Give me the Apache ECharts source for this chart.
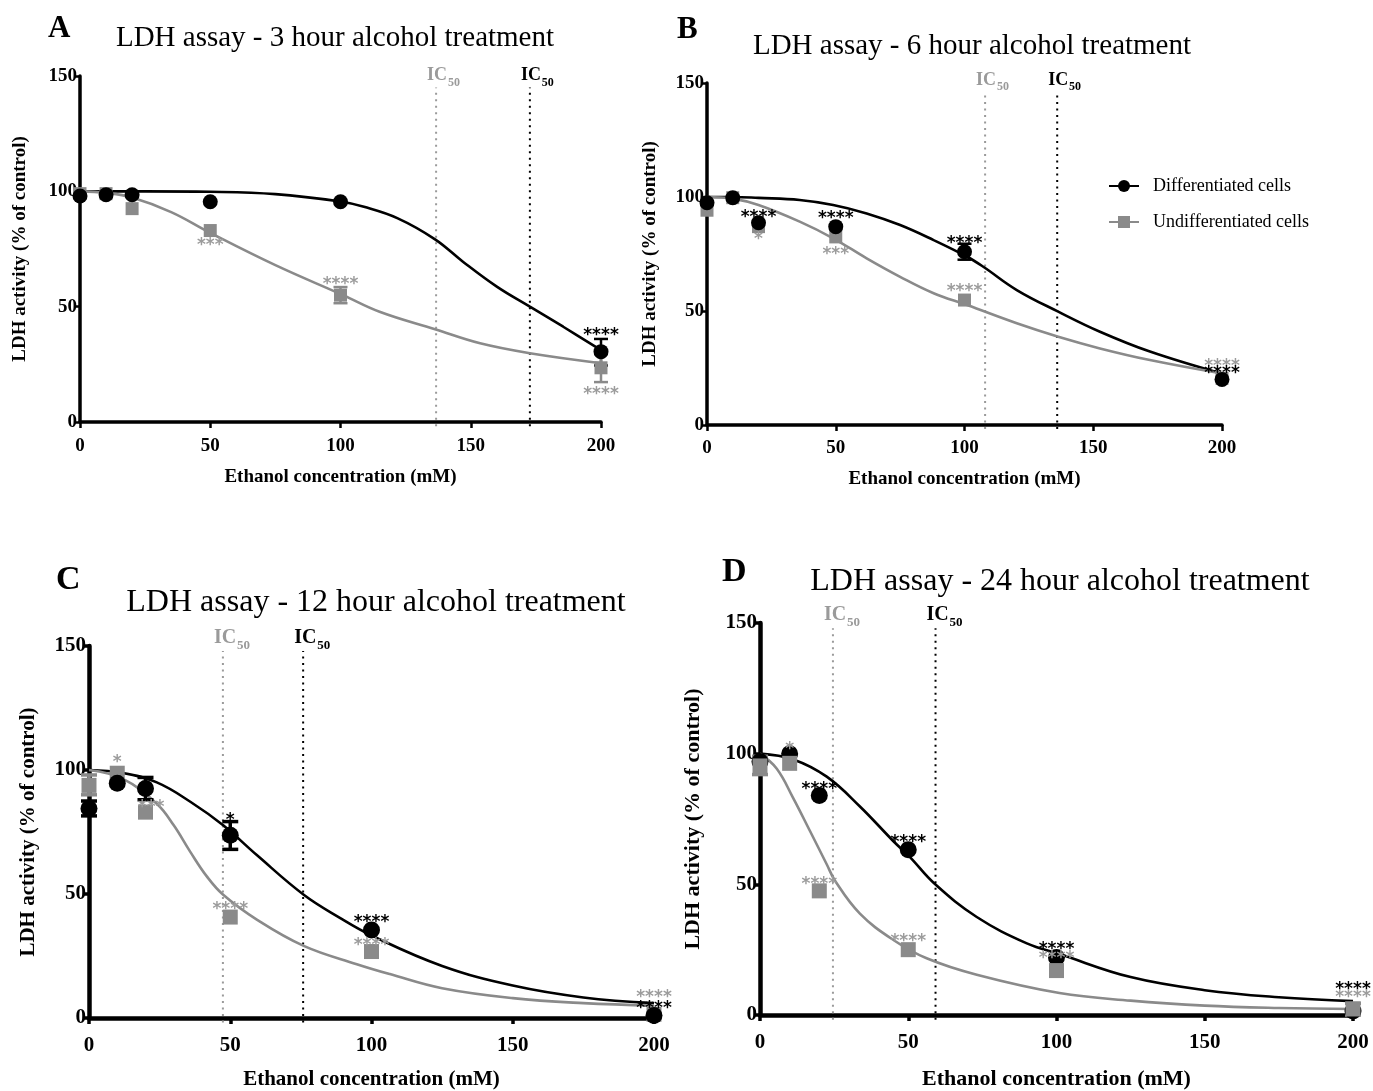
<!DOCTYPE html>
<html><head><meta charset="utf-8">
<script src="https://cdn.jsdelivr.net/npm/echarts@6/dist/echarts.min.js"></script>
<style>html,body{margin:0;padding:0;background:#fff}#c{width:1373px;height:1091px}</style>
</head><body><div id="c"></div>
<script>
// ---------- DATA ----------
const legendNames = ['Differentiated cells', 'Undifferentiated cells'];
const xAxisName = 'Ethanol concentration (mM)';
const yAxisName = 'LDH activity (% of control)';
const titles = ['LDH assay - 3 hour alcohol treatment','LDH assay - 6 hour alcohol treatment','LDH assay - 12 hour alcohol treatment','LDH assay - 24 hour alcohol treatment'];
const letters = ['A','B','C','D'];

// Panel A (3 h)
const curveA_d = [[0,100],[25,100],[50,99.8],[75,98.8],[100,95.6],[109,93.3],[122,88.3],[136.3,79.2],[147,69.5],[160,58.7],[172.7,50],[185.5,41.3],[200,31.2]];
const curveA_u = [[0,100],[10,99.3],[20,97.3],[35,91],[50,82],[75,68],[101,55],[115,47.8],[136.3,40.2],[153.6,34.1],[172.7,29.8],[200,25.5]];
const ptsA_d = [[0,98],[10,98.5],[20,98.5],[50,95.5],[100,95.5],[200,30.5]];
const ptsA_u = [[0,99],[10,99],[20,92.5],[50,83],[100,55],[200,23.5]];
const errA = [[200,24.5,36,'d'],[100,51.5,58.5,'u'],[200,17.3,29.5,'u']];
const sigA = [[50,78.2,'***','u'],[100,61.2,'****','u'],[200,38.9,'****','d'],[200,13.7,'****','u']];
const icA = [136.7,172.7];

// Panel B (6 h)
const curveB_d = [[0,100],[10,100],[20,99.6],[36,98.7],[49,96.5],[62,92.8],[75,87.7],[88,81.1],[101,73.8],[107.3,69.4],[120.3,59.2],[136.4,49.7],[152.6,40.9],[172,32.2],[200,22.5]];
const curveB_u = [[0,100],[10,99.3],[20,96.5],[36,89.2],[49,81.9],[62,73.1],[75,65],[88,57.8],[101,52.6],[120.3,44.6],[136.4,38.7],[152.6,33.6],[172,28.5],[200,22.6]];
const ptsB_d = [[0,97.5],[10,99.7],[20,88.7],[50,87],[100,76],[200,20]];
const ptsB_u = [[0,94.2],[10,99.7],[20,87],[50,82.5],[100,54.8],[200,20.5]];
const errB = [[100,72.5,79.5,'d']];
const sigB = [[20,92.7,'****','d'],[20,82.8,'*','u'],[50,92.2,'****','d'],[50,76.5,'***','u'],[100,81.3,'****','d'],[100,60.3,'****','u'],[200,27.2,'****','u'],[200,24,'****','d']];
const icB = [108,136];

// Panel C (12 h)
const curveC_d = [[0,100],[12,98.8],[24,95],[36,87.1],[47.5,77.7],[59.4,65.7],[76,49.7],[88.8,40.4],[100,33.3],[125,21],[150,13.1],[175,8.3],[200,6]];
const curveC_u = [[0,100],[12,96.4],[24,86.4],[30,77.7],[35.8,67.1],[41.7,57.1],[47.5,49.7],[59.4,39.7],[76,29.1],[94.8,21.7],[106.5,17.7],[125,12],[150,8],[175,6],[200,5]];
const ptsC_d = [[0,84.5],[10,94.7],[20,92.5],[50,73.7],[100,35.5],[200,1]];
const ptsC_u = [[0,93.8],[10,98.7],[20,83],[50,40.7],[100,26.8],[200,1.5]];
const errC = [[0,81.5,87.5,'d'],[20,88,97,'d'],[50,68,79.2,'d'],[0,90,98,'u']];
const sigC = [[10,104.6,'*','u'],[22,86.4,'***','u'],[50,81,'*','d'],[50,45.4,'****','u'],[100,40,'****','d'],[100,30.6,'****','u'],[200,9.7,'****','u'],[200,5.4,'****','d']];
const icC = [47.4,75.8];

// Panel D (24 h)
const curveD_d = [[0,100],[11.2,97.8],[22.5,91.2],[33.7,79.8],[45,66.5],[50.5,60.5],[59,50.1],[73.1,37.5],[90,27.4],[101,23.3],[125,14.5],[150,9.5],[175,6.8],[200,5.3]];
const curveD_u = [[0,100],[5.6,94.3],[11.2,83],[16.9,70.3],[22.5,57.7],[25.3,51.4],[33.7,38.8],[45,28.7],[56.2,21.7],[73.1,15.4],[101,8.4],[125,5.5],[150,3.6],[175,2.7],[200,2.3]];
const ptsD_d = [[0,97],[10,100],[20,84],[50,63.2],[100,22],[200,1.5]];
const ptsD_u = [[0,95.3],[10,96.3],[20,47.5],[50,25],[100,17],[200,2.3]];
const errD = [[0,92,99,'u'],[200,0,4.5,'u']];
const sigD = [[10,103,'*','u'],[20,87.8,'****','d'],[50,67.6,'****','d'],[20,51.4,'****','u'],[50,29.7,'****','u'],[100,26.5,'****','d'],[100,23.1,'****','u'],[200,11,'****','d'],[200,8,'****','u']];
const icD = [24.6,59.2];

// ---------- STYLE / LAYOUT ----------
const BLACK = '#000', GRAY = '#8a8a8a', GRAY_TXT = '#9c9c9c';
const SERIF = '"Liberation Serif","Times New Roman",serif';

const panels = [
  {curves:[curveA_d,curveA_u], pts:[ptsA_d,ptsA_u], err:errA, sig:sigA, ic:icA,
   grid:{left:80,top:76,width:521,height:346}, tick:19, name:19, lw:3.5, sym:[15,13], icTop:145, sqTop:false,
   gapX:46, gapY:50, lblM:15, letter:[48,13,31], title:[335,38,29], icFs:[18,12]},
  {curves:[curveB_d,curveB_u], pts:[ptsB_d,ptsB_u], err:errB, sig:sigB, ic:icB,
   grid:{left:707,top:83,width:515,height:342}, tick:19, name:19, lw:3.5, sym:[15,13], icTop:146, sqTop:false,
   gapX:45, gapY:47, lblM:14, letter:[677,14,31], title:[972,46,29], icFs:[18,12]},
  {curves:[curveC_d,curveC_u], pts:[ptsC_d,ptsC_u], err:errC, sig:sigC, ic:icC,
   grid:{left:89,top:646,width:565,height:375}, tick:21, name:21, lw:4.5, sym:[17,15], icTop:148, sqTop:false,
   gapX:51, gapY:50, lblM:17, letter:[56,563,34], title:[376,603,32], icFs:[20,13]},
  {curves:[curveD_d,curveD_u], pts:[ptsD_d,ptsD_u], err:errD, sig:sigD, ic:icD,
   grid:{left:760,top:623,width:593,height:396}, tick:21, name:22, lw:4.5, sym:[17,15], icTop:148, sqTop:true,
   gapX:53, gapY:56, lblM:17, letter:[722,555,34], title:[1060,582,32], icFs:[20,13]}
];

const grids = [], xAxes = [], yAxes = [], series = [], graphics = [];
const STAR_FS = 17;

panels.forEach((p, i) => {
  grids.push(Object.assign({containLabel:false}, p.grid));
  const labelStyle = {fontFamily:SERIF, fontWeight:'bold', fontSize:p.tick, color:BLACK};
  const nameStyle = {fontFamily:SERIF, fontWeight:'bold', fontSize:p.name, color:BLACK};
  const axLine = {show:true, onZero:false, lineStyle:{color:BLACK, width:p.lw}};
  const axTick = {show:true, length:6, lineStyle:{color:BLACK, width:p.lw-1}};
  xAxes.push({gridIndex:i, type:'value', min:0, max:200, interval:50,
    axisLine:axLine, axisTick:axTick, splitLine:{show:false},
    axisLabel:Object.assign({margin:p.lblM}, labelStyle),
    name:xAxisName, nameLocation:'middle', nameGap:p.gapX, nameTextStyle:nameStyle});
  yAxes.push({gridIndex:i, type:'value', min:0, max:150, interval:50,
    axisLine:axLine, axisTick:axTick, splitLine:{show:false},
    axisLabel:Object.assign({margin:3}, labelStyle),
    name:yAxisName, nameLocation:'middle', nameGap:p.gapY, nameTextStyle:nameStyle});

  // fitted curves
  [0,1].forEach(k => {
    series.push({type:'line', name:legendNames[k], xAxisIndex:i, yAxisIndex:i,
      data:p.curves[k], smooth:0.4, showSymbol:false, symbol:k===0?'circle':'rect',
      lineStyle:{color:k===0?BLACK:GRAY, width:2.6}, itemStyle:{color:k===0?BLACK:GRAY},
      silent:true, z:2, animation:false});
  });

  // IC50 lines + labels
  const icArr = p.ic, icTop = p.icTop, icFs = p.icFs;
  series.push({type:'custom', xAxisIndex:i, yAxisIndex:i, silent:true, z:1, animation:false,
    data:icArr.map(v => [v, 0]),
    renderItem:(params, api) => {
      const v = icArr[params.dataIndex];
      const col = params.dataIndex === 0 ? '#9a9a9a' : BLACK;
      const a = api.coord([v, -1.8]), b = api.coord([v, icTop]);
      return {type:'group', children:[
        {type:'line', shape:{x1:a[0],y1:a[1],x2:b[0],y2:b[1]}, style:{stroke:col, lineWidth:2, lineDash:[2,4.5]}},
        {type:'text', x:b[0]-9, y:b[1]-3, style:{text:'IC', fill:col, font:'bold '+icFs[0]+'px '+SERIF, textAlign:'left', textVerticalAlign:'bottom'}},
        {type:'text', x:b[0]+icFs[0]*1.1-8, y:b[1]+1, style:{text:'50', fill:col, font:'bold '+icFs[1]+'px '+SERIF, textAlign:'left', textVerticalAlign:'bottom'}}
      ]};
    }});

  // error bars
  const errArr = p.err, lwE = p.lw - 1, cap = p.sym[0] - 1;
  series.push({type:'custom', xAxisIndex:i, yAxisIndex:i, silent:true, z:3, animation:false,
    data:errArr.map(d => [d[0], d[1], d[2]]), encode:{x:0, y:[1,2]},
    renderItem:(params, api) => {
      const d = errArr[params.dataIndex];
      const lo = api.coord([d[0], d[1]]), hi = api.coord([d[0], d[2]]);
      const c = d[3] === 'd' ? BLACK : GRAY, h = cap/2;
      const st = {stroke:c, lineWidth:lwE};
      return {type:'group', children:[
        {type:'line', shape:{x1:lo[0],y1:lo[1],x2:hi[0],y2:hi[1]}, style:st},
        {type:'line', shape:{x1:lo[0]-h,y1:lo[1],x2:lo[0]+h,y2:lo[1]}, style:st},
        {type:'line', shape:{x1:hi[0]-h,y1:hi[1],x2:hi[0]+h,y2:hi[1]}, style:st}
      ]};
    }});

  // data points
  series.push({type:'scatter', xAxisIndex:i, yAxisIndex:i, data:p.pts[0], symbol:'circle', symbolSize:p.sym[0],
    itemStyle:{color:BLACK, opacity:1}, z:p.sqTop?4:5, silent:true, animation:false});
  series.push({type:'scatter', xAxisIndex:i, yAxisIndex:i, data:p.pts[1], symbol:'rect', symbolSize:p.sym[1],
    itemStyle:{color:GRAY, opacity:1}, z:p.sqTop?5:4, silent:true, animation:false});

  // significance stars
  const sigArr = p.sig;
  series.push({type:'custom', xAxisIndex:i, yAxisIndex:i, silent:true, z:6, animation:false,
    data:sigArr.map(d => [d[0], d[1]]),
    renderItem:(params, api) => {
      const d = sigArr[params.dataIndex];
      const c = api.coord([d[0], d[1]]);
      return {type:'text', x:c[0], y:c[1]+STAR_FS*0.22, style:{text:d[2], fill:d[3]==='d'?BLACK:GRAY_TXT,
        font:'bold '+STAR_FS+'px "DejaVu Sans"', textAlign:'center', textVerticalAlign:'middle'}};
    }});

  // panel letter and title
  graphics.push({type:'text', left:p.letter[0], top:p.letter[1],
    style:{text:letters[i], font:'bold '+p.letter[2]+'px '+SERIF, fill:BLACK}});
  graphics.push({type:'text', x:p.title[0], y:p.title[1],
    style:{text:titles[i], font:p.title[2]+'px '+SERIF, fill:BLACK, textAlign:'center', textVerticalAlign:'middle'}});
});

const chart = echarts.init(document.getElementById('c'), null, {renderer:'canvas'});
chart.setOption({
  backgroundColor:'#fff',
  animation:false,
  grid:grids, xAxis:xAxes, yAxis:yAxes, series:series, graphic:graphics,
  legend:{data:legendNames, orient:'vertical', left:1103, top:172, itemWidth:30, itemHeight:15, itemGap:18,
    selectedMode:false, textStyle:{fontFamily:SERIF, fontSize:18, color:BLACK, padding:[0,0,0,9]}}
});
</script>
</body></html>
